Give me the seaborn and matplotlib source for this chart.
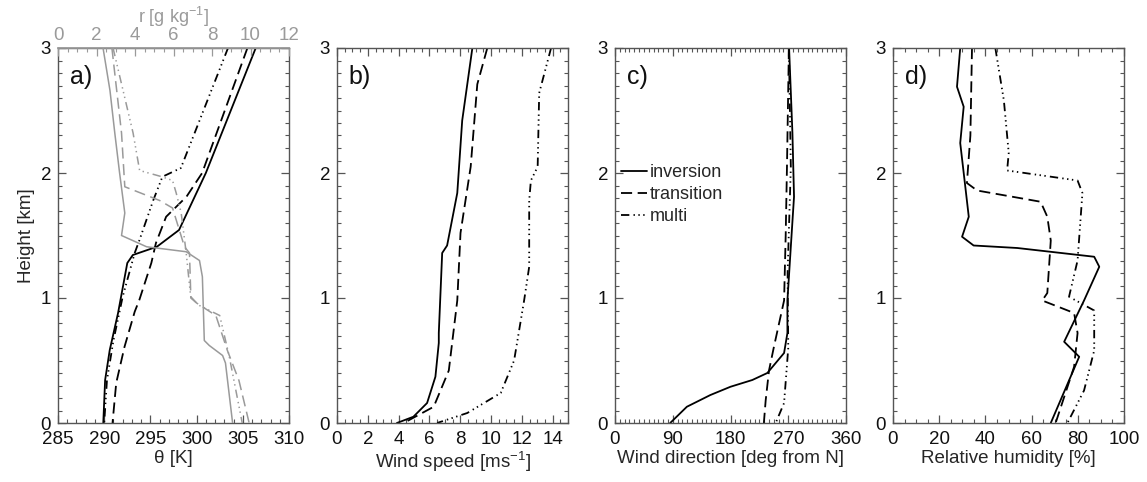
import numpy as np
import pandas as pd
import matplotlib
matplotlib.use("Agg")
import matplotlib.pyplot as plt
import seaborn as sns
from matplotlib.ticker import MultipleLocator

sns.set_theme(style="ticks")
plt.rcParams['font.family'] = ['Liberation Sans', 'DejaVu Sans']
plt.rcParams['mathtext.fontset'] = 'custom'
plt.rcParams['mathtext.rm'] = 'Liberation Sans'
plt.rcParams['mathtext.it'] = 'Liberation Sans:italic'
plt.rcParams['lines.scale_dashes'] = False

# ---------------- data ----------------
regimes = ["inversion", "transition", "multi"]

# panel a: potential temperature theta [K]
theta_inv_z = [3.0, 2.0, 1.544, 1.41, 1.344, 1.28, 0.88, 0.584, 0.344, 0.0]
theta_inv = [306.4, 301.0, 298.1, 295.7, 293.1, 292.5, 291.5, 290.6, 290.1, 289.9]
theta_tra_z = [3.0, 2.0, 1.81, 1.65, 1.44, 1.28, 0.984, 0.89, 0.61, 0.32, 0.0]
theta_tra = [305.5, 300.6, 298.9, 296.7, 295.6, 295.1, 293.8, 293.3, 292.2, 291.3, 290.9]
theta_mul_z = [3.0, 2.04, 1.97, 1.78, 1.46, 1.36, 1.01, 0.66, 0.344, 0.0]
theta_mul = [303.4, 298.3, 296.3, 295.3, 293.8, 293.3, 292.0, 291.0, 290.3, 290.0]

# panel a: mixing ratio r [g/kg]
r_inv_z = [3.0, 2.66, 2.32, 2.0, 1.68, 1.50, 1.41, 1.37, 1.30, 1.17, 0.66, 0.62, 0.54, 0.48, 0.0]
r_inv = [2.34, 2.7, 2.95, 3.2, 3.47, 3.3, 4.6, 6.66, 7.35, 7.5, 7.6, 7.86, 8.55, 8.7, 9.07]
r_tra_z = [3.0, 2.32, 1.89, 1.78, 1.72, 1.41, 1.36, 1.01, 0.96, 0.86, 0.58, 0.34, 0.0]
r_tra = [2.8, 3.3, 3.47, 5.28, 5.95, 6.57, 6.83, 6.9, 7.2, 8.2, 8.8, 9.4, 9.93]
r_mul_z = [3.0, 2.32, 2.02, 1.97, 1.94, 1.84, 1.68, 1.36, 1.0, 0.94, 0.86, 0.53, 0.0]
r_mul = [2.86, 3.9, 4.24, 5.4, 5.95, 6.14, 6.4, 6.66, 6.9, 7.35, 8.4, 8.9, 9.57]

# panel b: wind speed [m/s]
ws_inv_z = [3.0, 2.42, 1.84, 1.42, 1.36, 0.72, 0.64, 0.37, 0.16, 0.05, 0.0]
ws_inv = [8.79, 8.13, 7.81, 7.15, 6.83, 6.61, 6.61, 6.39, 5.85, 4.96, 3.89]
ws_tra_z = [3.0, 2.71, 2.05, 1.52, 0.98, 0.42, 0.13, 0.0]
ws_tra = [9.76, 9.11, 8.68, 8.02, 7.81, 7.26, 6.28, 4.33]
ws_mul_z = [3.0, 2.64, 2.05, 1.94, 1.78, 1.25, 0.98, 0.5, 0.24, 0.08, 0.0]
ws_mul = [13.9, 13.13, 13.03, 12.59, 12.48, 12.48, 12.15, 11.5, 10.63, 8.46, 6.5]

# panel c: wind direction [deg from N]
wd_inv_z = [3.0, 2.32, 1.81, 1.41, 0.98, 0.72, 0.56, 0.40, 0.344, 0.29, 0.224, 0.13, 0.0]
wd_inv = [271.3, 276.5, 279.0, 274.0, 268.7, 268.7, 263.5, 237.4, 214.0, 180.0, 148.7, 112.0, 86.0]
wd_tra_z = [3.0, 2.05, 1.5, 0.98, 0.61, 0.42, 0.18, 0.0]
wd_tra = [271.0, 268.0, 266.0, 263.5, 247.7, 240.0, 234.8, 232.0]
wd_mul_z = [3.0, 2.05, 1.2, 0.6, 0.16, 0.0]
wd_mul = [271.0, 274.0, 269.0, 270.0, 263.5, 250.4]

# panel d: relative humidity [%]
rh_inv_z = [3.0, 2.69, 2.53, 2.24, 1.89, 1.65, 1.49, 1.42, 1.40, 1.33, 1.25, 0.98, 0.65, 0.53, 0.0]
rh_inv = [29.1, 27.7, 30.6, 29.1, 31.3, 32.8, 29.9, 34.9, 53.8, 87.1, 89.3, 82.7, 74.1, 80.6, 68.3]
rh_tra_z = [3.0, 2.3, 1.92, 1.86, 1.77, 1.65, 1.46, 1.04, 0.98, 0.88, 0.72, 0.45, 0.0]
rh_tra = [34.2, 33.5, 32.0, 36.4, 63.9, 66.8, 68.3, 66.8, 64.6, 78.4, 79.9, 78.4, 70.4]
rh_mul_z = [3.0, 2.58, 2.16, 2.02, 1.94, 1.84, 1.30, 1.01, 0.9, 0.58, 0.26, 0.0]
rh_mul = [44.3, 48.0, 50.1, 49.4, 79.9, 82.0, 79.9, 76.2, 87.1, 87.1, 82.7, 75.5]

# ---------------- styling ----------------
DASHED = (0, (8, 4))
MULTI = (0, (6, 3, 1, 2.5, 1, 2.5, 1, 3))
styles = {"inversion": "-", "transition": DASHED, "multi": MULTI}
FRAME = "#555555"
GRAY = "#9a9a9a"
FS = 13.5

fig = plt.figure(figsize=(11.47, 4.82), dpi=100)
lefts = [58, 337, 615, 893]
axes = []
for L in lefts:
    ax = fig.add_axes([L / 1147, 59 / 482, 231 / 1147, 375 / 482])
    axes.append(ax)


def draw(ax, x, z, reg, color="black", lw=1.3):
    sns.lineplot(x=x, y=z, ax=ax, sort=False, estimator=None, color=color,
                 linewidth=lw, linestyle=styles[reg], label=reg)


def style_axis(ax, xmin, xmax, major, minor, top=True):
    ax.set_xlim(xmin, xmax)
    ax.set_ylim(0, 3)
    ax.xaxis.set_major_locator(MultipleLocator(major))
    ax.xaxis.set_minor_locator(MultipleLocator(minor))
    ax.yaxis.set_major_locator(MultipleLocator(1))
    ax.yaxis.set_minor_locator(MultipleLocator(0.1))
    ax.tick_params(which="both", direction="in", bottom=True, left=True,
                   top=top, right=True,
                   colors=FRAME, labelcolor="#111111", labelsize=FS)
    ax.tick_params(which="major", length=6, width=0.9)
    ax.tick_params(which="minor", length=3, width=0.8)
    ax.tick_params(axis="x", pad=6)
    ax.tick_params(axis="y", pad=5)
    for s in ax.spines.values():
        s.set_visible(True)
        s.set_color(FRAME)
        s.set_linewidth(1.0)
    if ax.get_legend() is not None:
        ax.get_legend().remove()


# panel a
axa = axes[0]
draw(axa, theta_inv, theta_inv_z, "inversion")
draw(axa, theta_tra, theta_tra_z, "transition")
draw(axa, theta_mul, theta_mul_z, "multi")
style_axis(axa, 285, 310, 5, 1, top=False)
axa.set_xlabel("θ [K]", fontsize=FS, labelpad=1)
axa.set_ylabel("Height [km]", fontsize=FS, labelpad=4)
axr = axa.twiny()
draw(axr, r_inv, r_inv_z, "inversion", color=GRAY, lw=1.1)
draw(axr, r_tra, r_tra_z, "transition", color=GRAY, lw=1.1)
draw(axr, r_mul, r_mul_z, "multi", color=GRAY, lw=1.1)
axr.get_legend().remove()
axr.set_xlim(0, 12)
axr.set_ylim(0, 3)
axr.xaxis.set_major_locator(MultipleLocator(2))
axr.xaxis.set_minor_locator(MultipleLocator(0.5))
axr.tick_params(axis="x", which="both", direction="in", top=True, bottom=False,
                colors=GRAY, labelcolor=GRAY, labelsize=FS)
axr.tick_params(axis="x", which="major", length=6, width=0.9, pad=3)
axr.tick_params(axis="x", which="minor", length=3, width=0.8)
axr.tick_params(axis="y", which="both", left=False, right=False,
                labelleft=False, labelright=False)
axr.spines["top"].set_visible(True)
axr.spines["top"].set_color(GRAY)
for s in ["left", "right", "bottom"]:
    axr.spines[s].set_visible(False)
axr.set_xlabel("r [g kg$^{-1}$]", fontsize=13, color=GRAY, labelpad=3)

# panel b
axb = axes[1]
draw(axb, ws_inv, ws_inv_z, "inversion")
draw(axb, ws_tra, ws_tra_z, "transition")
draw(axb, ws_mul, ws_mul_z, "multi")
style_axis(axb, 0, 15, 2, 0.5)
axb.set_xlabel("Wind speed [ms$^{-1}$]", fontsize=FS, labelpad=1)

# panel c
axc = axes[2]
draw(axc, wd_inv, wd_inv_z, "inversion")
draw(axc, wd_tra, wd_tra_z, "transition")
draw(axc, wd_mul, wd_mul_z, "multi")
handles, labels = axc.get_legend_handles_labels()
style_axis(axc, 0, 360, 90, 7.5)
axc.set_xlabel("Wind direction [deg from N]", fontsize=FS, labelpad=1)
axc.legend(handles, labels, loc="upper left", bbox_to_anchor=(-0.02, 0.72),
           frameon=False, fontsize=FS - 0.5, handlelength=1.45,
           handletextpad=0.15, labelspacing=0.28, borderaxespad=0.2)

# panel d
axd = axes[3]
draw(axd, rh_inv, rh_inv_z, "inversion")
draw(axd, rh_tra, rh_tra_z, "transition")
draw(axd, rh_mul, rh_mul_z, "multi")
style_axis(axd, 0, 100, 20, 5)
axd.set_xlabel("Relative humidity [%]", fontsize=FS, labelpad=1)

for ax in axes:
    ax.set_ylabel(ax.get_ylabel() if ax is axa else "")
    ax.set_yticks([0, 1, 2, 3])
    ax.set_yticklabels(["0", "1", "2", "3"])

for ax, lab in zip(axes, ["a)", "b)", "c)", "d)"]):
    ax.text(0.05, 0.955, lab, transform=ax.transAxes, fontsize=18,
            va="top", ha="left", color="#111111")

fig.savefig("out.png", dpi=100)
